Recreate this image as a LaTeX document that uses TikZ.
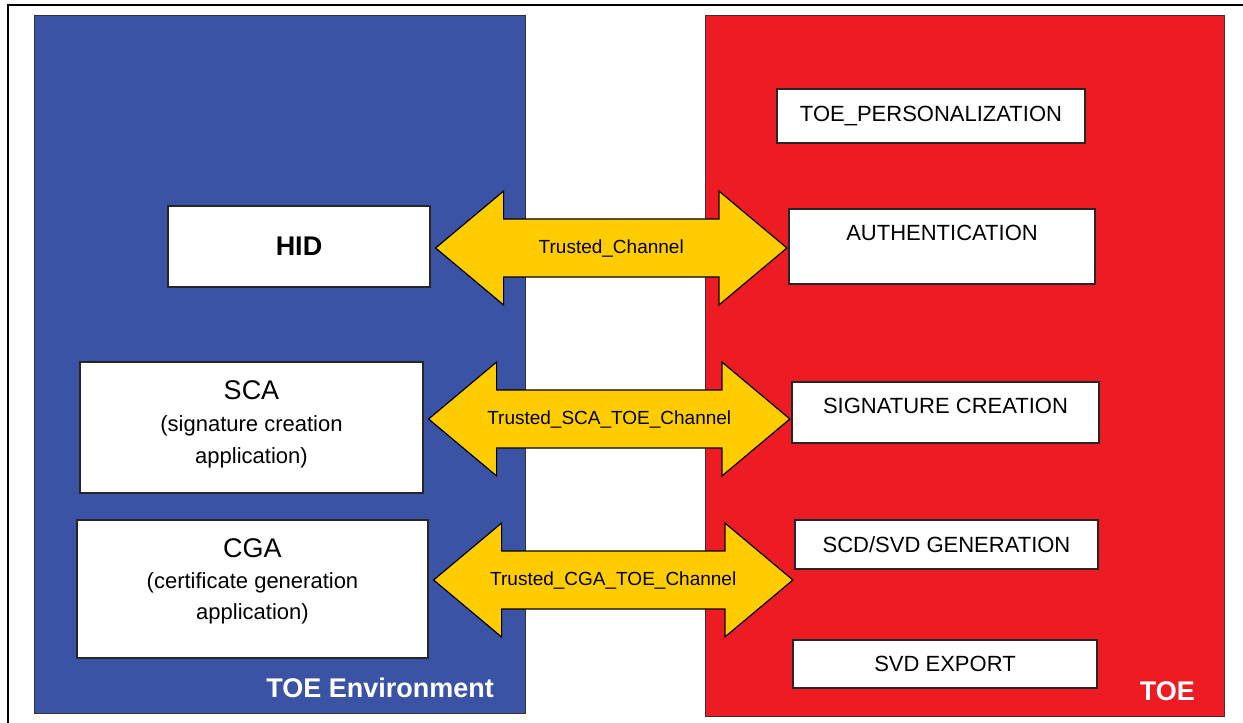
\documentclass[tikz,border=0pt]{standalone}
\usepackage{fontspec}
\setmainfont{Liberation Sans}
\usepackage{tikz}
\usetikzlibrary{calc}
\usetikzlibrary{positioning}

\definecolor{envblue}{HTML}{3A53A4}
\definecolor{toered}{HTML}{ED1C24}
\definecolor{chanyellow}{HTML}{FFCC00}

\newcommand{\channel}[4]{%
  \coordinate (#1tip) at ($(#1.east |- 0,#3)+(5,0)$);
  \coordinate (#2tip) at ($(#2.west |- 0,#3)+(-1.5,0)$);
  \draw[chan] (#1tip) -- ++(68,-57) -- ++(0,28) -- ($(#2tip)+(-68,-29)$) -- ++(0,-28) -- (#2tip)
    -- ++(-68,57) -- ++(0,-28) -- ($(#1tip)+(68,29)$) -- ++(0,28) -- cycle;
  \node[chanlabel] at ($(#1tip)!0.5!(#2tip)$) {#4};
}

\begin{document}
\begin{tikzpicture}[x=0.5pt, y=-0.5pt,
        panel/.style={draw=black!80, line width=0.6pt, anchor=north west, inner sep=0pt},
        box/.style={draw=black!85, fill=white, line width=0.6pt, inner sep=0pt,
          align=center, font=\fontsize{11}{16}\selectfont},
        title/.style={text=white, anchor=base east, inner sep=0pt,
          font=\bfseries\fontsize{13.5}{16}\selectfont},
        chan/.style={draw=black, line width=0.6pt, fill=chanyellow, line join=miter},
        chanlabel/.style={inner sep=0pt, font=\fontsize{9.5}{11}\selectfont},
      ]
      \useasboundingbox (0,0) rectangle (1243,723);
      \draw[line width=1.25pt] (8,723) -- (8,5) -- (1243,5);

      \node[panel, fill=envblue, minimum width=245.5pt, minimum height=349pt] (env) at (34,15) {};
      \node[panel, fill=toered, minimum width=259.5pt, minimum height=350.5pt] (toe) at (705,15) {};
      \node[title] at ([xshift=-16pt, yshift=8.5pt]env.south east) {TOE Environment};
      \node[title] at ([xshift=-15pt, yshift=8.5pt]toe.south east) {TOE};

      \node[box, minimum width=131pt, minimum height=40.5pt, font=\bfseries\fontsize{13.5}{16}\selectfont] (hid) at (299,246.5) {HID};
      \node[box, minimum width=171.5pt, minimum height=65.5pt, text depth=5pt] (sca) at (251.5,427.5) {{\fontsize{13.5}{16}\selectfont SCA}\\(signature creation\\application)};
      \node[box, minimum width=175.5pt, minimum height=69pt, text depth=10pt, font=\fontsize{11}{15.5}\selectfont] (cga) at (252.5,589) {{\fontsize{13.5}{15.5}\selectfont CGA}\\(certificate generation\\application)};

      \node[box, minimum width=154pt, minimum height=27pt] (pers) at (931,116) {TOE\_PERSONALIZATION};
      \node[box, minimum width=153pt, minimum height=37.5pt, text depth=14pt] (auth) at (942,246.5) {AUTHENTICATION};
      \node[box, minimum width=153.5pt, minimum height=30.5pt, text depth=7pt] (sig) at (945.5,412.5) {SIGNATURE CREATION};
      \node[box, minimum width=151.5pt, minimum height=24.5pt] (gen) at (946.5,544.5) {SCD/SVD GENERATION};
      \node[box, minimum width=152pt, minimum height=24pt] (exp) at (945,664) {SVD EXPORT};

      \channel{hid}{auth}{248}{Trusted\_Channel}
      \channel{sca}{sig}{419}{Trusted\_SCA\_TOE\_Channel}
      \channel{cga}{gen}{580}{Trusted\_CGA\_TOE\_Channel}
    \end{tikzpicture}
\end{document}
